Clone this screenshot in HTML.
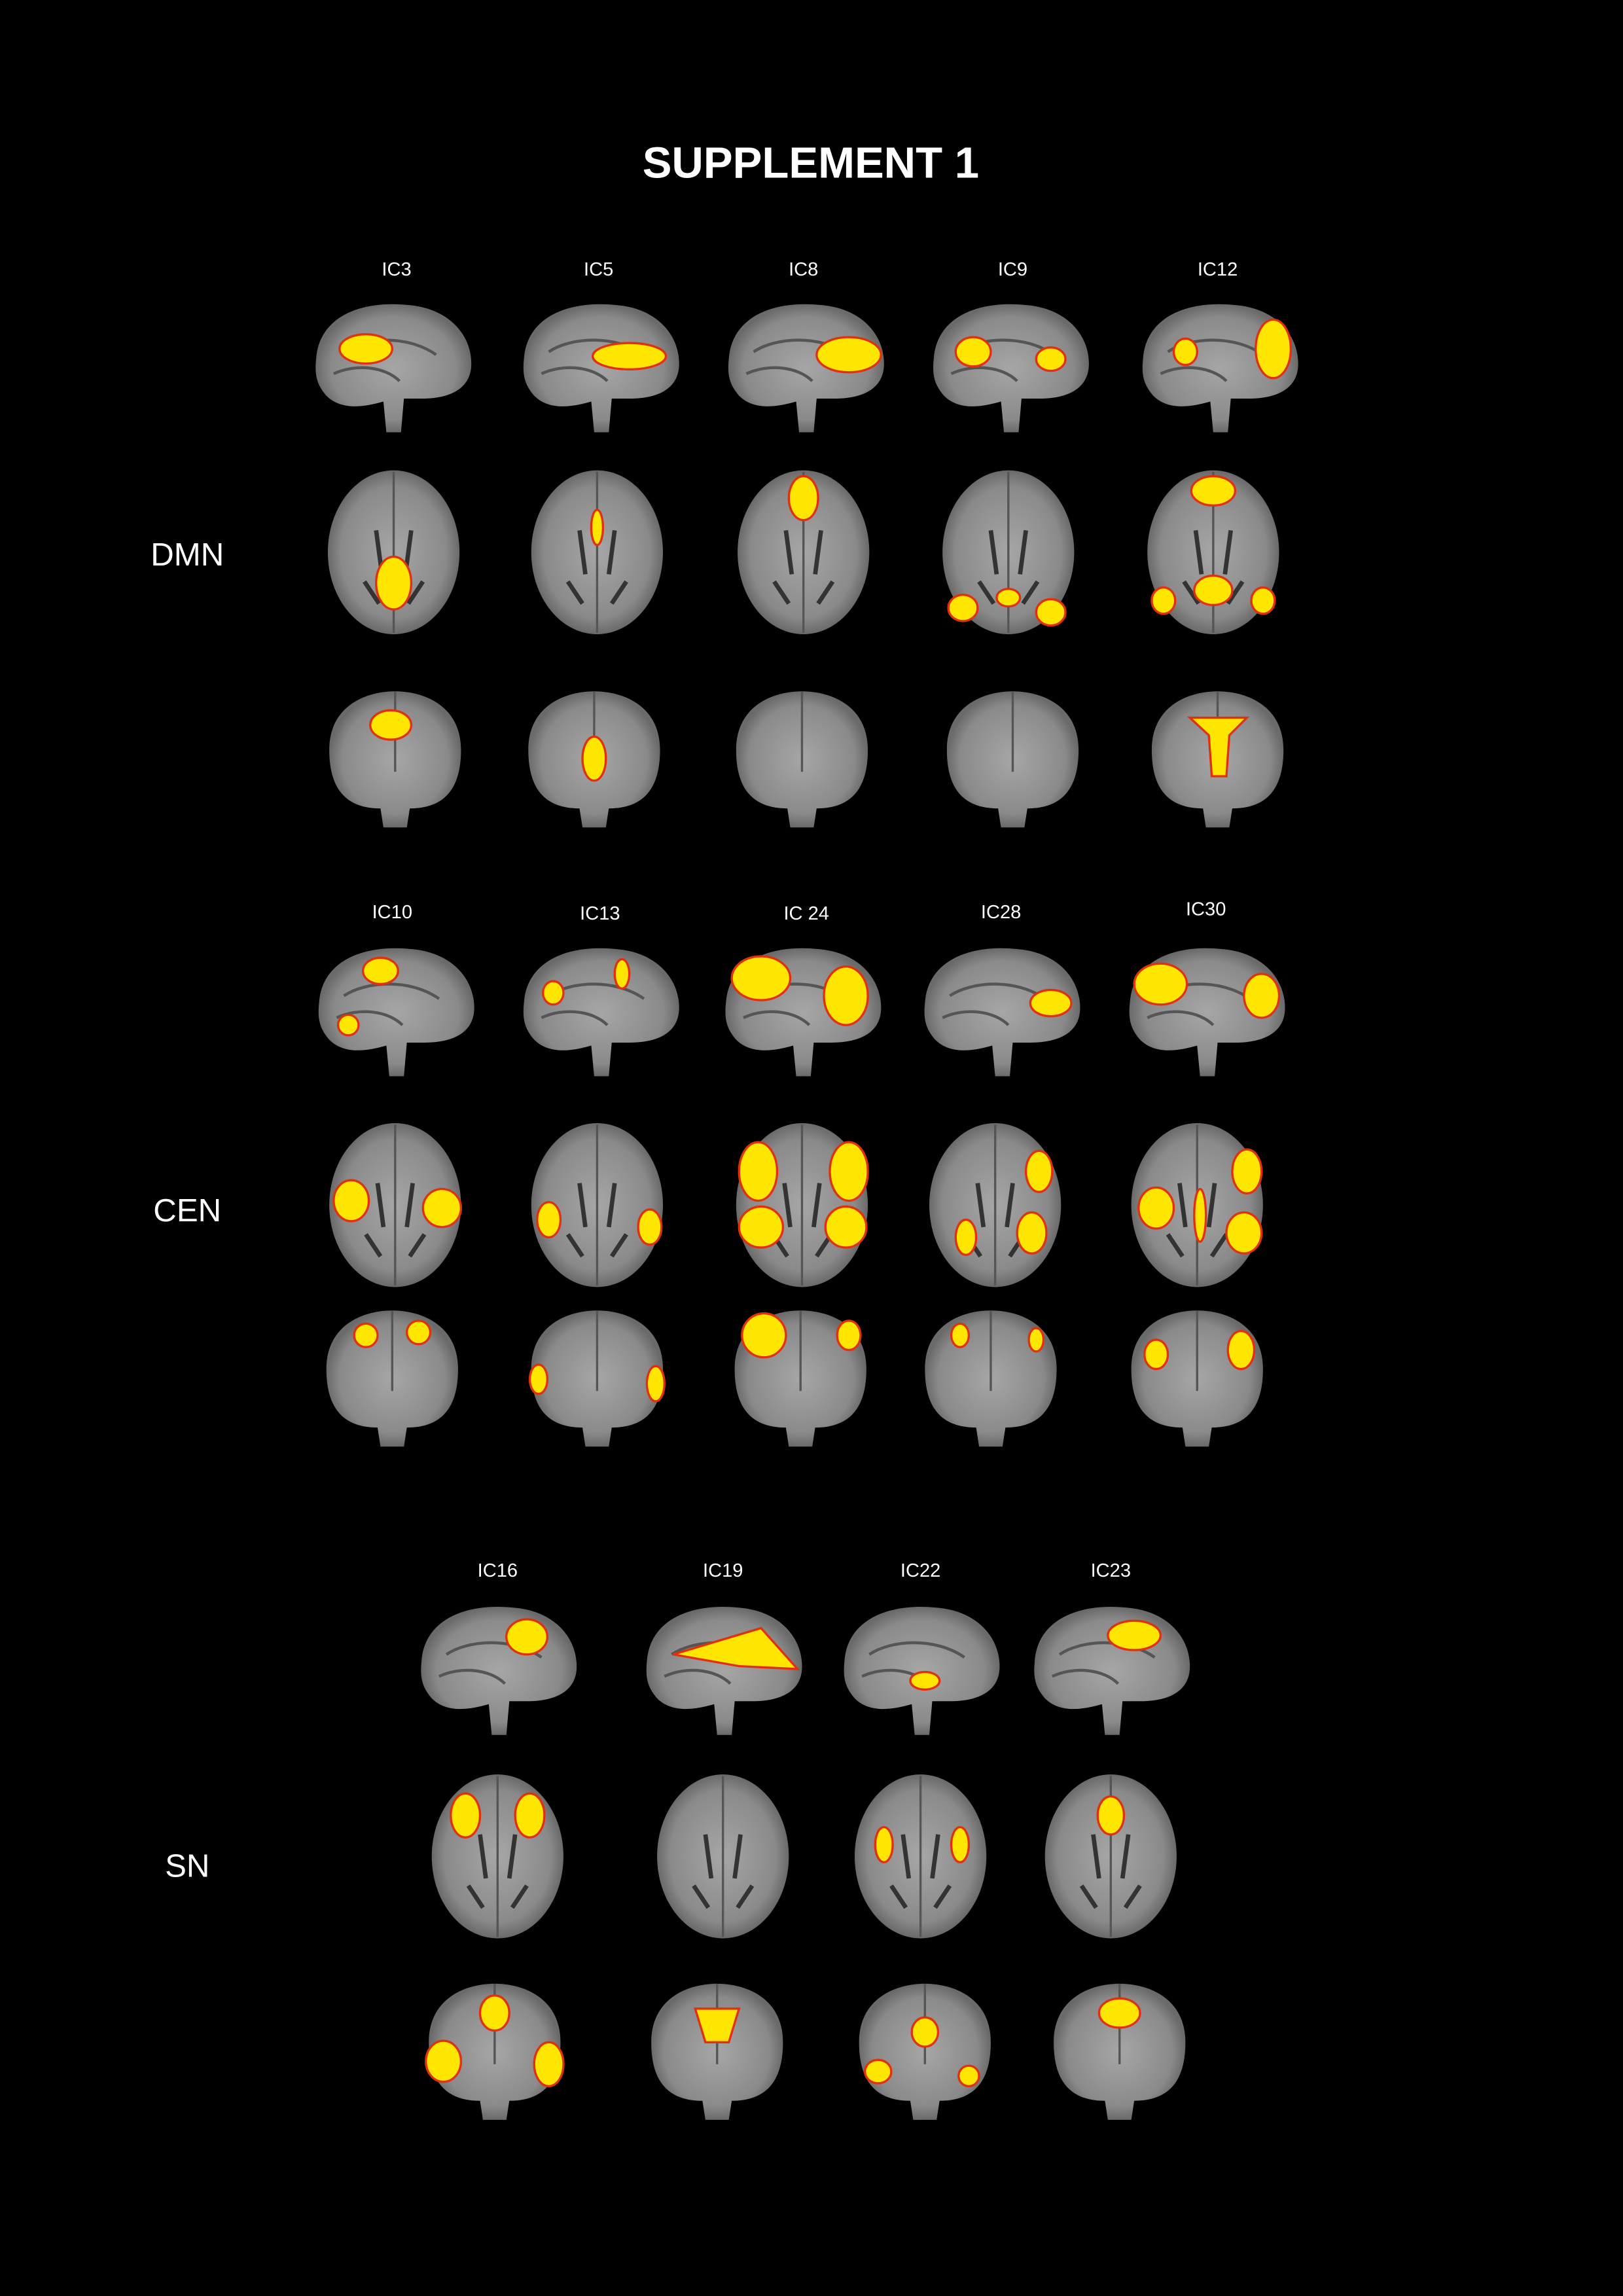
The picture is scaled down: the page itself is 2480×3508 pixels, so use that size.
<!DOCTYPE html>
<html><head><meta charset="utf-8"><style>
html,body{margin:0;padding:0;background:#000;}
svg{display:block;}
text{font-family:"Liberation Sans",sans-serif;fill:#fff;}
</style></head><body>
<svg width="2480" height="3508" viewBox="0 0 1109 1568" xmlns="http://www.w3.org/2000/svg">
<defs>
<radialGradient id="g" cx="50%" cy="50%" r="50%"><stop offset="0" stop-color="#a6a6a6"/><stop offset="0.8" stop-color="#8a8a8a"/><stop offset="1" stop-color="#6a6a6a"/></radialGradient>
<g id="sag">
<path stroke="none" d="M-52,-5 C-50,-35 -20,-45 10,-42 C40,-40 55,-20 54,0 C53,15 40,22 20,22 L8,22 L6,45 L-4,45 L-6,24 C-20,28 -35,30 -45,20 C-52,12 -53,5 -52,-5Z" fill="url(#g)"/>
<path d="M-35,-10 C-20,-20 10,-22 30,-8" stroke="#555" stroke-width="2" fill="none"/>
<path d="M-40,5 C-25,-2 -5,0 5,10" stroke="#555" stroke-width="2" fill="none"/>
</g>
<g id="axi">
<ellipse stroke="none" cx="0" cy="0" rx="45" ry="56" fill="url(#g)"/>
<path d="M-12,-15 L-8,15 M12,-15 L8,15 M-20,20 L-10,35 M20,20 L10,35" stroke="#333" stroke-width="3" fill="none"/>
<line x1="0" y1="-55" x2="0" y2="55" stroke="#555" stroke-width="1.5"/>
</g>
<g id="cor">
<path stroke="none" d="M-45,-5 C-45,-35 -20,-45 0,-45 C20,-45 45,-35 45,-5 C45,20 35,35 10,35 L8,48 L-8,48 L-10,35 C-35,35 -45,20 -45,-5Z" fill="url(#g)"/>
<line x1="0" y1="-45" x2="0" y2="10" stroke="#555" stroke-width="1.5"/>
</g>
</defs>
<rect width="1109" height="1568" fill="#000"/>
<text x="554" y="121" font-size="30" font-weight="bold" text-anchor="middle">SUPPLEMENT 1</text>

<g font-size="13" text-anchor="middle">
<text x="271" y="188">IC3</text><text x="409" y="188">IC5</text><text x="549" y="188">IC8</text><text x="692" y="188">IC9</text><text x="832" y="188">IC12</text>
<text x="268" y="627">IC10</text><text x="410" y="628">IC13</text><text x="551" y="628">IC 24</text><text x="684" y="627">IC28</text><text x="824" y="625">IC30</text>
<text x="340" y="1077">IC16</text><text x="494" y="1077">IC19</text><text x="629" y="1077">IC22</text><text x="759" y="1077">IC23</text>
</g>
<g font-size="22" text-anchor="middle">
<text x="128" y="386">DMN</text><text x="128" y="834">CEN</text><text x="128" y="1282">SN</text>
</g>

<g fill="#ffe600" stroke="#e03010" stroke-width="1.5">
<use href="#sag" x="268" y="250"/><ellipse cx="250" cy="238" rx="18" ry="10"/>
<use href="#sag" x="410" y="250"/><ellipse cx="430" cy="243" rx="25" ry="9"/>
<use href="#sag" x="550" y="250"/><ellipse cx="580" cy="242" rx="22" ry="12"/>
<use href="#sag" x="690" y="250"/><ellipse cx="665" cy="240" rx="12" ry="10"/><ellipse cx="718" cy="245" rx="10" ry="8"/>
<use href="#sag" x="833" y="250"/><ellipse cx="870" cy="238" rx="12" ry="20"/><ellipse cx="810" cy="240" rx="8" ry="9"/>
<use href="#axi" x="269" y="377"/><ellipse cx="269" cy="398" rx="12" ry="18"/>
<use href="#axi" x="408" y="377"/><ellipse cx="408" cy="360" rx="4" ry="12"/>
<use href="#axi" x="549" y="377"/><ellipse cx="549" cy="340" rx="10" ry="15"/>
<use href="#axi" x="689" y="377"/><ellipse cx="658" cy="415" rx="10" ry="9"/><ellipse cx="718" cy="418" rx="10" ry="9"/><ellipse cx="689" cy="408" rx="8" ry="6"/>
<use href="#axi" x="829" y="377"/><ellipse cx="829" cy="335" rx="15" ry="10"/><ellipse cx="829" cy="403" rx="13" ry="10"/><ellipse cx="795" cy="410" rx="8" ry="9"/><ellipse cx="863" cy="410" rx="8" ry="9"/>
<use href="#cor" x="270" y="517"/><ellipse cx="267" cy="495" rx="14" ry="10"/>
<use href="#cor" x="406" y="517"/><ellipse cx="406" cy="518" rx="8" ry="15"/>
<use href="#cor" x="548" y="517"/>
<use href="#cor" x="692" y="517"/>
<use href="#cor" x="832" y="517"/><path d="M813,490 L852,490 L840,502 L838,530 L828,530 L826,502Z"/>
<use href="#sag" x="270" y="690"/><ellipse cx="260" cy="663" rx="12" ry="9"/><ellipse cx="238" cy="700" rx="7" ry="7"/>
<use href="#sag" x="410" y="690"/><ellipse cx="378" cy="678" rx="7" ry="8"/><ellipse cx="425" cy="665" rx="5" ry="10"/>
<use href="#sag" x="548" y="690"/><ellipse cx="520" cy="668" rx="20" ry="15"/><ellipse cx="578" cy="680" rx="15" ry="20"/>
<use href="#sag" x="684" y="690"/><ellipse cx="718" cy="685" rx="14" ry="9"/>
<use href="#sag" x="824" y="690"/><ellipse cx="793" cy="672" rx="18" ry="14"/><ellipse cx="862" cy="680" rx="12" ry="15"/>
<use href="#axi" x="270" y="823"/><ellipse cx="240" cy="820" rx="12" ry="14"/><ellipse cx="302" cy="825" rx="13" ry="13"/>
<use href="#axi" x="408" y="823"/><ellipse cx="375" cy="833" rx="8" ry="12"/><ellipse cx="444" cy="838" rx="8" ry="12"/>
<use href="#axi" x="548" y="823"/><ellipse cx="518" cy="800" rx="13" ry="20"/><ellipse cx="580" cy="800" rx="13" ry="20"/><ellipse cx="520" cy="838" rx="15" ry="14"/><ellipse cx="578" cy="838" rx="14" ry="14"/>
<use href="#axi" x="680" y="823"/><ellipse cx="710" cy="800" rx="9" ry="14"/><ellipse cx="705" cy="842" rx="10" ry="14"/><ellipse cx="660" cy="845" rx="7" ry="12"/>
<use href="#axi" x="818" y="823"/><ellipse cx="852" cy="800" rx="10" ry="15"/><ellipse cx="790" cy="825" rx="12" ry="14"/><ellipse cx="850" cy="842" rx="12" ry="14"/><ellipse cx="820" cy="830" rx="4" ry="18"/>
<use href="#cor" x="268" y="940"/><ellipse cx="250" cy="912" rx="8" ry="8"/><ellipse cx="286" cy="910" rx="8" ry="8"/>
<use href="#cor" x="408" y="940"/><ellipse cx="368" cy="942" rx="6" ry="10"/><ellipse cx="448" cy="945" rx="6" ry="12"/>
<use href="#cor" x="547" y="940"/><ellipse cx="522" cy="912" rx="15" ry="15"/><ellipse cx="580" cy="912" rx="8" ry="10"/>
<use href="#cor" x="677" y="940"/><ellipse cx="656" cy="912" rx="6" ry="8"/><ellipse cx="708" cy="915" rx="5" ry="8"/>
<use href="#cor" x="818" y="940"/><ellipse cx="790" cy="925" rx="8" ry="10"/><ellipse cx="848" cy="922" rx="9" ry="13"/>
<use href="#sag" x="340" y="1140"/><ellipse cx="360" cy="1118" rx="14" ry="12"/>
<use href="#sag" x="494" y="1140"/><path d="M460,1130 L520,1112 L545,1140 L505,1138Z"/>
<use href="#sag" x="629" y="1140"/><ellipse cx="632" cy="1148" rx="10" ry="6"/>
<use href="#sag" x="759" y="1140"/><ellipse cx="775" cy="1117" rx="18" ry="10"/>
<use href="#axi" x="340" y="1268"/><ellipse cx="318" cy="1240" rx="10" ry="15"/><ellipse cx="362" cy="1240" rx="10" ry="15"/>
<use href="#axi" x="494" y="1268"/>
<use href="#axi" x="629" y="1268"/><ellipse cx="604" cy="1260" rx="6" ry="12"/><ellipse cx="656" cy="1260" rx="6" ry="12"/>
<use href="#axi" x="759" y="1268"/><ellipse cx="759" cy="1240" rx="9" ry="13"/>
<use href="#cor" x="338" y="1400"/><ellipse cx="338" cy="1375" rx="10" ry="12"/><ellipse cx="303" cy="1408" rx="12" ry="14"/><ellipse cx="375" cy="1410" rx="10" ry="15"/>
<use href="#cor" x="490" y="1400"/><path d="M475,1372 L505,1372 L498,1395 L482,1395Z"/>
<use href="#cor" x="632" y="1400"/><ellipse cx="632" cy="1388" rx="9" ry="10"/><ellipse cx="600" cy="1415" rx="9" ry="8"/><ellipse cx="662" cy="1418" rx="7" ry="7"/>
<use href="#cor" x="765" y="1400"/><ellipse cx="765" cy="1375" rx="14" ry="10"/>
</g>
</svg>
</body></html>
